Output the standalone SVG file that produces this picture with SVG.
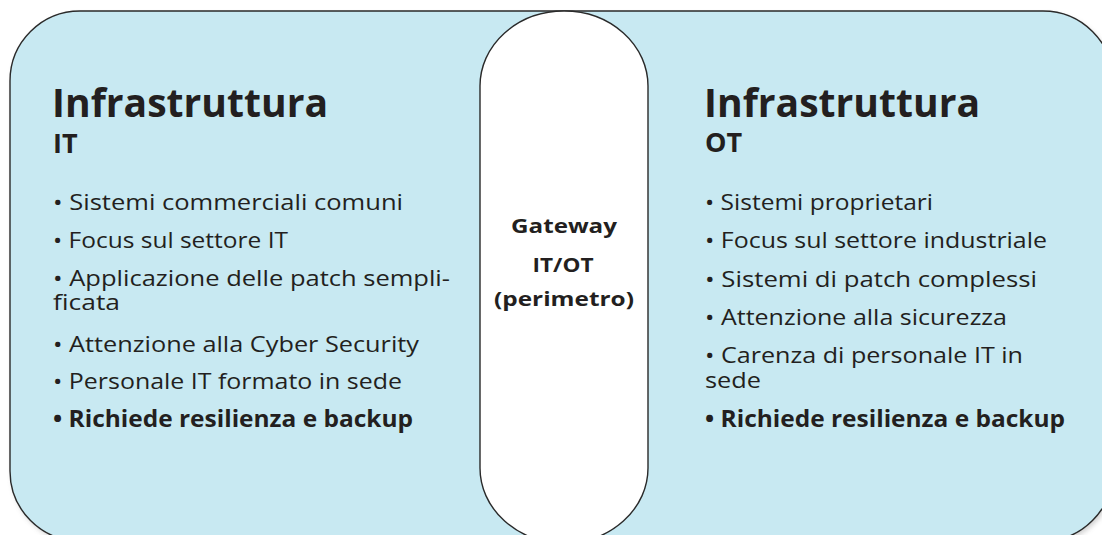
<svg xmlns="http://www.w3.org/2000/svg" width="1102" height="535" viewBox="0 0 1102 535">
  <defs>
    <filter id="soft-shadow" x="-5%" y="-5%" width="110%" height="110%">
      <feGaussianBlur stdDeviation="2.5"/>
    </filter>
    <style>
      .panel { fill: #c8e9f2; stroke: #2a2a2a; stroke-width: 1.4; }
      .gate { fill: #ffffff; stroke: #2a2a2a; stroke-width: 1.4; }
      text { fill: #231f20; font-family: "Open Sans", "Noto Sans", sans-serif; }
      .title { font-weight: 700; font-size: 39px; }
      .sub { font-weight: 700; font-size: 27px; }
      .item { font-weight: 400; font-size: 22.5px; }
      .item-strong { font-weight: 700; font-size: 22.5px; }
      .gate-label { font-weight: 700; font-size: 20px; text-anchor: middle; }
    </style>
  </defs>

  <rect width="1102" height="535" fill="#ffffff"/>

  <!-- outer rounded band holding both infrastructures -->
  <g id="frame">
    <rect x="12" y="14" width="1103" height="530" rx="70" ry="70" fill="#9a9a9a" opacity="0.45" filter="url(#soft-shadow)"/>
    <rect class="panel" x="10" y="11" width="1103" height="530" rx="70" ry="70"/>
  </g>

  <!-- central gateway pill -->
  <g id="gateway">
    <rect class="gate" x="480" y="11" width="168" height="532" rx="84" ry="75"/>
    <text class="gate-label" x="564" y="233" textLength="106" lengthAdjust="spacingAndGlyphs">Gateway</text>
    <text class="gate-label" x="563" y="272" textLength="61" lengthAdjust="spacingAndGlyphs">IT/OT</text>
    <text class="gate-label" x="564" y="306" textLength="140" lengthAdjust="spacingAndGlyphs">(perimetro)</text>
  </g>

  <!-- IT side -->
  <g id="it-infrastructure">
    <text class="title" x="52" y="117" textLength="276" lengthAdjust="spacingAndGlyphs">Infrastruttura</text>
    <text class="sub" x="53" y="153">IT</text>
    <text class="item" x="53" y="210" textLength="350" lengthAdjust="spacingAndGlyphs">• Sistemi commerciali comuni</text>
    <text class="item" x="53" y="248" textLength="235" lengthAdjust="spacingAndGlyphs">• Focus sul settore IT</text>
    <text class="item" x="53" y="286" textLength="397" lengthAdjust="spacingAndGlyphs">• Applicazione delle patch sempli-</text>
    <text class="item" x="53" y="310" textLength="67" lengthAdjust="spacingAndGlyphs">ficata</text>
    <text class="item" x="53" y="352" textLength="366" lengthAdjust="spacingAndGlyphs">• Attenzione alla Cyber Security</text>
    <text class="item" x="53" y="389" textLength="349" lengthAdjust="spacingAndGlyphs">• Personale IT formato in sede</text>
    <text class="item-strong" x="53" y="427" textLength="360" lengthAdjust="spacingAndGlyphs">• Richiede resilienza e backup</text>
  </g>

  <!-- OT side -->
  <g id="ot-infrastructure">
    <text class="title" x="704" y="117" textLength="276" lengthAdjust="spacingAndGlyphs">Infrastruttura</text>
    <text class="sub" x="705" y="152">OT</text>
    <text class="item" x="705" y="210" textLength="228" lengthAdjust="spacingAndGlyphs">• Sistemi proprietari</text>
    <text class="item" x="705" y="248" textLength="342" lengthAdjust="spacingAndGlyphs">• Focus sul settore industriale</text>
    <text class="item" x="705" y="287" textLength="332" lengthAdjust="spacingAndGlyphs">• Sistemi di patch complessi</text>
    <text class="item" x="705" y="325" textLength="302" lengthAdjust="spacingAndGlyphs">• Attenzione alla sicurezza</text>
    <text class="item" x="705" y="363" textLength="318" lengthAdjust="spacingAndGlyphs">• Carenza di personale IT in</text>
    <text class="item" x="705" y="388" textLength="56" lengthAdjust="spacingAndGlyphs">sede</text>
    <text class="item-strong" x="705" y="427" textLength="360" lengthAdjust="spacingAndGlyphs">• Richiede resilienza e backup</text>
  </g>
</svg>
